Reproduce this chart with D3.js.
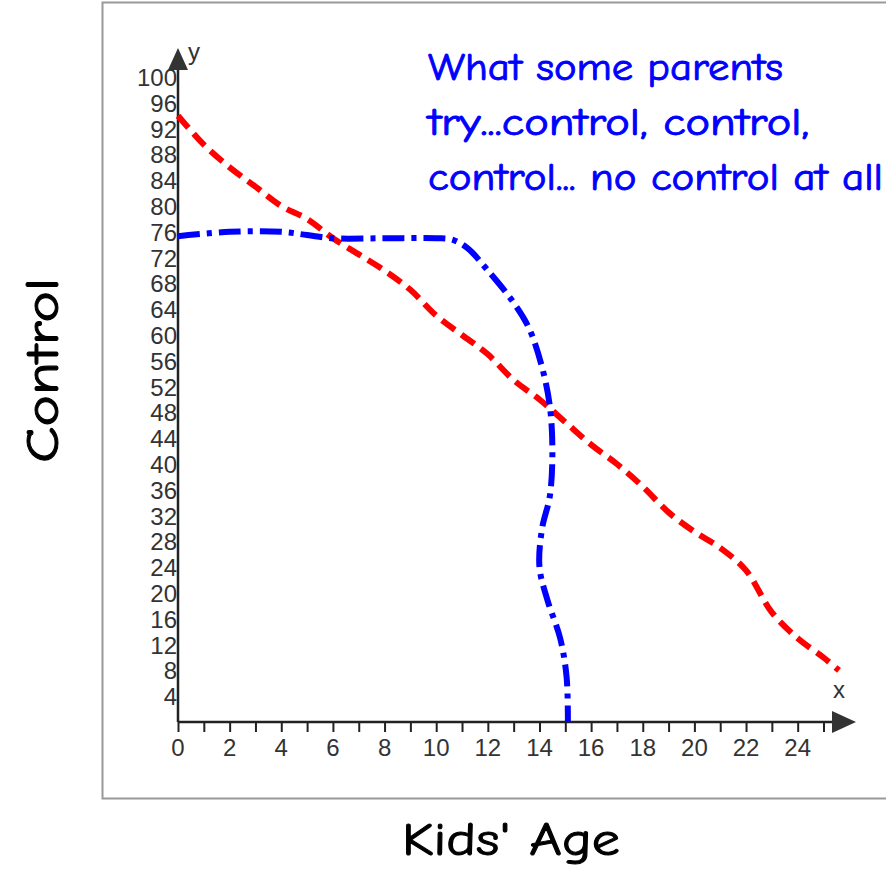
<!DOCTYPE html>
<html>
<head>
<meta charset="utf-8">
<script src="https://cdn.jsdelivr.net/npm/d3@7"></script>
<style>
  body { margin: 0; background: #fff; }
  svg { display: block; }
</style>
</head>
<body>
<script>
var W = 886, H = 875;

// what parents try (red dashed)
var tryX = [0, 1, 2, 3, 4, 5, 6, 7, 8, 9, 10, 11, 12, 13, 14, 15, 16, 17, 18, 19, 20, 21, 22, 23, 24, 25, 25.6];
var tryY = [94, 89.5, 86, 83, 80, 78, 75, 72.5, 70, 67, 63, 60, 57, 53, 50, 46.5, 43, 40, 36.5, 32.5, 29.5, 27, 23.5, 17, 13, 10, 8];

// what actually happens (blue dash-dot)
var realX = [0, 2, 4, 5, 6, 8, 10, 10.6, 11.2, 12, 13, 13.6, 14.1, 14.4, 14.5, 14.4, 14.1, 14, 14.3, 14.8, 15.05, 15.1];
var realY = [75.3, 76, 76, 75.5, 75, 75, 75, 74.8, 73.5, 70, 65, 61, 55, 49, 42, 35, 30, 24, 19, 13, 7, 0];

var xTicks = d3.range(0, 26, 1);
var xLabels = d3.range(0, 26, 2);
var yLabels = d3.range(4, 101, 4);

var titleLines = ["What some parents", "try...control, control,", "control... no control at all"];

var svg = d3.select('body')
  .append('svg')
  .attr('width', W)
  .attr('height', H);

// frame
svg.append('rect')
  .attr('x', 102.5).attr('y', 2.5)
  .attr('width', 800).attr('height', 796)
  .attr('fill', 'none')
  .attr('stroke', '#999')
  .attr('stroke-width', 2);

var x = d3.scaleLinear().domain([0, 25]).range([178, 823.5]);
var y = d3.scaleLinear().domain([0, 100]).range([722, 77]);

var axisColor = '#222';
var tickFont = '"Liberation Sans", Arial, sans-serif';

// x axis
var gx = svg.append('g').attr('transform', 'translate(0,' + y(0) + ')');
gx.call(d3.axisBottom(x).tickValues(xTicks).tickSize(10).tickFormat(''));
gx.select('.domain').remove();
gx.selectAll('.tick line').attr('stroke', axisColor).attr('stroke-width', 2);
gx.append('line')
  .attr('x1', x(0)).attr('x2', 835)
  .attr('stroke', axisColor).attr('stroke-width', 2.5);
gx.append('path')
  .attr('d', 'M832,-11L856,0L832,11Z')
  .attr('fill', '#333');
gx.selectAll('text.xl')
  .data(xLabels)
  .enter().append('text')
  .attr('class', 'xl')
  .attr('x', function(d) { return x(d); })
  .attr('y', 34)
  .attr('text-anchor', 'middle')
  .attr('font-family', tickFont)
  .attr('font-size', 24)
  .attr('fill', '#333')
  .text(function(d) { return d; });

// y axis
svg.append('line')
  .attr('x1', x(0)).attr('x2', x(0))
  .attr('y1', y(0)).attr('y2', 68)
  .attr('stroke', axisColor).attr('stroke-width', 2.5);
svg.append('path')
  .attr('d', 'M' + (x(0) - 10) + ',70L' + x(0) + ',48L' + (x(0) + 10) + ',70Z')
  .attr('fill', '#333');
svg.selectAll('text.yl')
  .data(yLabels)
  .enter().append('text')
  .attr('class', 'yl')
  .attr('x', 177)
  .attr('y', function(d) { return y(d) + 9; })
  .attr('text-anchor', 'end')
  .attr('font-family', tickFont)
  .attr('font-size', 24)
  .attr('fill', '#333')
  .text(function(d) { return d; });

svg.append('text')
  .attr('x', 188).attr('y', 60)
  .attr('font-family', tickFont).attr('font-size', 24).attr('fill', '#333')
  .text('y');
svg.append('text')
  .attr('x', 833).attr('y', 698)
  .attr('font-family', tickFont).attr('font-size', 24).attr('fill', '#333')
  .text('x');

// lines
var line = d3.line()
  .x(function(d) { return x(d[0]); })
  .y(function(d) { return y(d[1]); })
  .curve(d3.curveCatmullRom.alpha(0.5));

svg.append('path')
  .datum(d3.zip(tryX, tryY))
  .attr('d', line)
  .attr('fill', 'none')
  .attr('stroke', '#ff0000')
  .attr('stroke-width', 6)
  .attr('stroke-dasharray', '16,8');

svg.append('path')
  .datum(d3.zip(realX, realY))
  .attr('d', line)
  .attr('fill', 'none')
  .attr('stroke', '#0000ff')
  .attr('stroke-width', 6)
  .attr('stroke-dasharray', '22,7,5,7');

// text
var comic = '"Comic Sans MS", "Comic Neue", "DejaVu Sans", sans-serif';
var lineW = [355, 381, 455];
svg.selectAll('text.title')
  .data(titleLines)
  .enter().append('text')
  .attr('class', 'title')
  .attr('x', 428)
  .attr('y', function(d, i) { return 80 + i * 55; })
  .attr('font-family', comic)
  .attr('font-size', 38)
  .attr('fill', '#0000ff')
  .attr('stroke', '#0000ff')
  .attr('stroke-width', 0.9)
  .attr('textLength', function(d, i) { return lineW[i]; })
  .attr('lengthAdjust', 'spacingAndGlyphs')
  .text(function(d) { return d; });

svg.append('text')
  .attr('transform', 'translate(58,463) rotate(-90)')
  .attr('font-family', comic)
  .attr('font-size', 46)
  .attr('fill', '#000')
  .attr('stroke', '#000')
  .attr('stroke-width', 1)
  .attr('textLength', 185)
  .attr('lengthAdjust', 'spacingAndGlyphs')
  .text('Control');

svg.append('text')
  .attr('x', 402).attr('y', 855)
  .attr('font-family', comic)
  .attr('font-size', 46)
  .attr('fill', '#000')
  .attr('stroke', '#000')
  .attr('stroke-width', 1)
  .attr('textLength', 218)
  .attr('lengthAdjust', 'spacingAndGlyphs')
  .text("Kids' Age");
</script>
</body>
</html>
